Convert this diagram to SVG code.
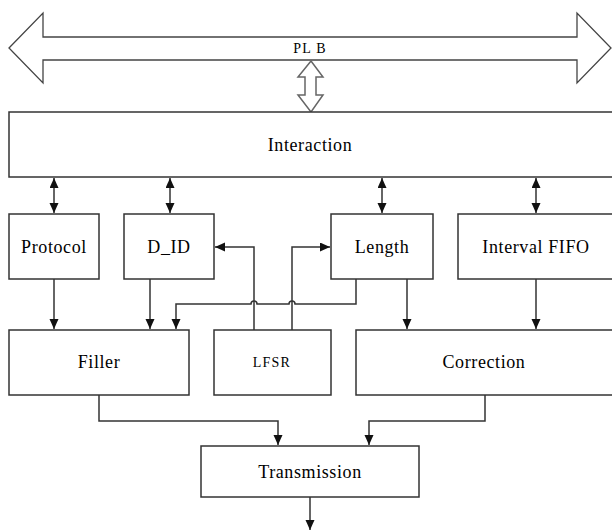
<svg xmlns="http://www.w3.org/2000/svg" width="612" height="530" viewBox="0 0 612 530">
<style>
.box{fill:#fff;stroke:#333;stroke-width:1.5}
.t{font-family:'Liberation Serif','DejaVu Serif',serif;font-size:18px;fill:#000;text-anchor:middle;letter-spacing:0.6px}
.s{font-size:14px;letter-spacing:1.2px}
.c{fill:none;stroke:#333;stroke-width:1.5}
.bus{fill:#fff;stroke:#444;stroke-width:1.3}
</style>
<defs>
<marker id="ah" markerUnits="userSpaceOnUse" markerWidth="11" markerHeight="10" refX="10" refY="4.5" orient="auto-start-reverse">
<path d="M0,0 L10,4.5 L0,9 z" fill="#111"/>
</marker>
</defs>
<rect width="612" height="530" fill="#fff"/>
<g id="plb">
<polygon class="bus" points="9,48 43,13 43,37 577,37 577,13 611,48 577,83 577,60 43,60 43,83"/>
<text class="t s" x="310" y="53">PL B</text>
</g>
<g id="plb-link">
<polygon class="bus" points="311,61 323,77 316,77 316,95 323,95 311,112 298,95 305,95 305,77 298,77" style="stroke:#666;stroke-width:1.5"/>
</g>
<g id="interaction"><rect class="box" x="9" y="112" width="620" height="65"/><text class="t" x="310" y="151">Interaction</text></g>
<g id="protocol"><rect class="box" x="9" y="214" width="90" height="65"/><text class="t" x="54" y="253">Protocol</text></g>
<g id="did"><rect class="box" x="124" y="214" width="90" height="65"/><text class="t" x="169" y="253">D_ID</text></g>
<g id="length"><rect class="box" x="331" y="214" width="102" height="65"/><text class="t" x="382" y="253">Length</text></g>
<g id="fifo"><rect class="box" x="458" y="214" width="170" height="65"/><text class="t" x="536" y="253">Interval FIFO</text></g>
<g id="filler"><rect class="box" x="9" y="330" width="180" height="65"/><text class="t" x="99" y="368">Filler</text></g>
<g id="lfsr"><rect class="box" x="214" y="330" width="117" height="65"/><text class="t s" x="272" y="367">LFSR</text></g>
<g id="correction"><rect class="box" x="356" y="330" width="272" height="65"/><text class="t" x="484" y="368">Correction</text></g>
<g id="transmission"><rect class="box" x="201" y="446" width="218" height="51"/><text class="t" x="310" y="478">Transmission</text></g>
<g id="connectors">
<path class="c" d="M54,178 V213" marker-start="url(#ah)" marker-end="url(#ah)"/>
<path class="c" d="M170,178 V213" marker-start="url(#ah)" marker-end="url(#ah)"/>
<path class="c" d="M382,178 V213" marker-start="url(#ah)" marker-end="url(#ah)"/>
<path class="c" d="M536,178 V213" marker-start="url(#ah)" marker-end="url(#ah)"/>
<path class="c" d="M54,279 V329" marker-end="url(#ah)"/>
<path class="c" d="M150,279 V329" marker-end="url(#ah)"/>
<path class="c" d="M356,279 V304 H295 A3,3 0 0 0 289,304 H257 A3,3 0 0 0 251,304 H176 V329" marker-end="url(#ah)"/>
<path class="c" d="M254,330 V247 H215" marker-end="url(#ah)"/>
<path class="c" d="M292,330 V247 H330" marker-end="url(#ah)"/>
<path class="c" d="M407,279 V329" marker-end="url(#ah)"/>
<path class="c" d="M536,279 V329" marker-end="url(#ah)"/>
<path class="c" d="M99,395 V421 H278 V445" marker-end="url(#ah)"/>
<path class="c" d="M485,395 V421 H369 V445" marker-end="url(#ah)"/>
<path class="c" d="M310,497 V530" marker-end="url(#ah)"/>
</g>
</svg>
